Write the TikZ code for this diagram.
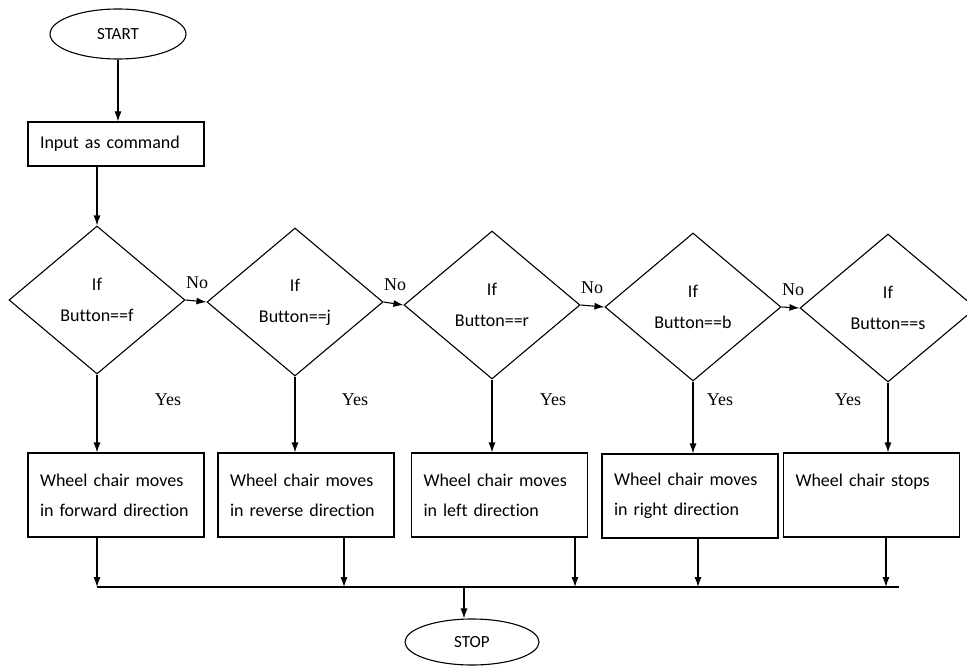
\documentclass[tikz,border=0pt]{standalone}
\usepackage{fontspec}
\setmainfont{Carlito}[Ligatures=NoCommon,WordSpace=0.6]
\newfontfamily\answerfont{Liberation Serif}
\usetikzlibrary{shapes.geometric,arrows.meta,positioning,calc}

\begin{document}
\begin{tikzpicture}[
    x=1pt,y=-1pt,
    line width=1.1pt,
    >={Latex[length=10pt,width=7pt]},
    terminal/.style={draw,ellipse,minimum width=136pt,minimum height=50pt,inner sep=0pt,font=\fontsize{17}{20}\selectfont},
    process/.style={draw,rectangle,minimum width=176pt,text width=152pt,inner xsep=12pt,align=left,font=\fontsize{18}{30}\selectfont},
    decision/.style={draw,diamond,minimum width=176pt,minimum height=148pt,inner sep=0pt,align=center,font=\fontsize{18}{31}\selectfont},
    answer/.style={inner sep=0pt,font=\answerfont\fontsize{18}{20}\selectfont},
]
\useasboundingbox (0,0) rectangle (967,666);

% Start and input
\node[terminal] (start) at (118,34) {START};
\node[process,minimum height=44pt] (input) at (116,144) {Input as command};

% Decisions
\node[decision] (d1) at (97,300) {If\\Button==f};
\node[decision] (d2) at (295,302) {If\\Button==j};
\node[decision] (d3) at (492,305) {If\\Button==r};
\node[decision] (d4) at (693,307) {If\\Button==b};
\node[decision] (d5) at (888,308) {If\\Button==s};

% Actions
\node[process,minimum height=84pt] (m1) at (116,495) {Wheel chair moves\\in forward direction};
\node[process,minimum height=84pt] (m2) at (306,495) {Wheel chair moves\\in reverse direction};
\node[process,minimum height=84pt] (m3) at (499.5,495) {Wheel chair moves\\in left direction};
\node[process,minimum height=84pt] (m4) at (690,496) {Wheel chair moves\\in right direction};
\node[process,minimum height=84pt] (m5) at (871.5,495) {Wheel chair stops\\\mbox{}};

% Stop
\node[terminal,minimum width=134pt,minimum height=46pt] (stop) at (472,642) {STOP};

% Collecting line
\coordinate (b1) at (97,587);
\coordinate (b2) at (344,587);
\coordinate (b3) at (575,587);
\coordinate (b4) at (698,587);
\coordinate (b5) at (886,587);
\coordinate (bend) at (899,587);
\coordinate (bstop) at (464,587);

% Connections from start to first decision
\draw[->] (start.south) -- (start.south |- input.north);
\draw[->] (input.south -| d1.north) -- (d1.north);

% No branches
\foreach \a/\b in {1/2,2/3,3/4,4/5}
{
    \draw[->] (d\a.east) -- (d\b.west);
    \node[answer,above right=11pt and 0pt of d\a.east] (no\a) {No};
}

% Yes branches
\foreach \n in {1,...,5}
    \draw[->] (d\n.south) -- (d\n.south |- m\n.north);

\node[answer] (yes1) at (168,400) {Yes};
\node[answer] (yes2) at (355,400) {Yes};
\node[answer] (yes3) at (553,400) {Yes};
\node[answer] (yes4) at (720,400) {Yes};
\node[answer] (yes5) at (848,400) {Yes};

% Connections to stop
\foreach \n in {1,...,5}
    \draw[->] (m\n.south -| b\n) -- (b\n);
\draw (b1) -- (bend);
\draw[->] (bstop) -- (bstop |- stop.north);

\end{tikzpicture}
\end{document}
